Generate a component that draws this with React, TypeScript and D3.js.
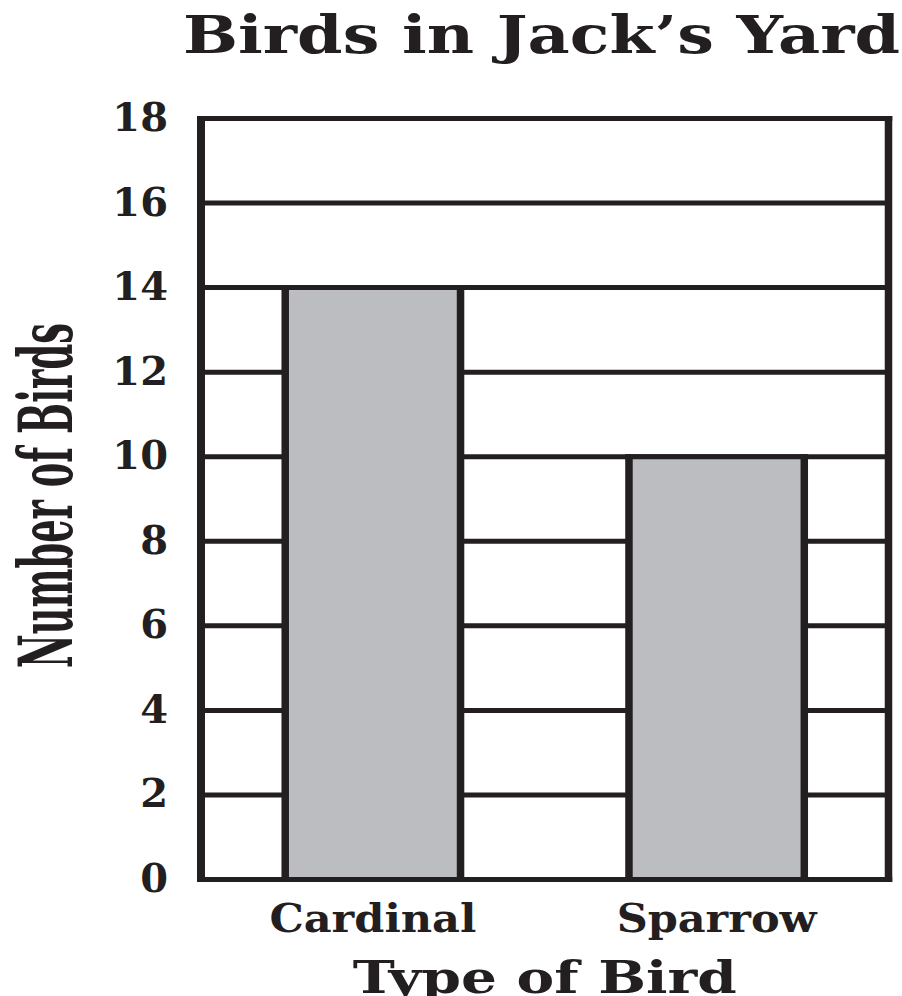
import React, { useRef, useEffect } from 'react';
import * as d3 from 'd3';

const chartTitle = 'Birds in Jack\u2019s Yard';
const xAxisTitle = 'Type of Bird';
const yAxisTitle = 'Number of Birds';
const categories = ['Cardinal', 'Sparrow'];
const birdCounts = [14, 10];
const yTicks = [0, 2, 4, 6, 8, 10, 12, 14, 16, 18];

const INK = '#231f20';
const BAR_FILL = '#bcbdc1';
const FONT = '"DejaVu Serif", "Liberation Serif", serif';

const App: React.FC = () => {
  const svgRef = useRef<SVGSVGElement>(null);

  useEffect(() => {
    if (!svgRef.current) return;
    const svgEl = d3.select(svgRef.current);
    svgEl.selectAll('*').remove();

    const width = 902;
    const height = 996;
    const margin = { top: 118.5, right: 13.5, bottom: 116.5, left: 201 };
    const innerWidth = width - margin.left - margin.right;
    const innerHeight = height - margin.top - margin.bottom;
    const hStroke = 5; // horizontal rules
    const vStroke = 7.5; // vertical rules (picture is stretched sideways)

    const xScale = d3
      .scaleBand<string>()
      .domain(categories)
      .range([0, innerWidth])
      .paddingInner(0.49)
      .paddingOuter(0.245);

    const yScale = d3
      .scaleLinear()
      .domain([0, d3.max(yTicks)!])
      .range([innerHeight, 0]);

    const svg = svgEl.attr('width', width).attr('height', height);

    // Title
    svg
      .append('text')
      .attr('x', 183)
      .attr('y', 53)
      .attr('font-family', FONT)
      .attr('font-weight', 'bold')
      .attr('font-size', 53)
      .attr('fill', INK)
      .attr('textLength', 717)
      .attr('lengthAdjust', 'spacingAndGlyphs')
      .text(chartTitle);

    const g = svg.append('g').attr('transform', `translate(${margin.left},${margin.top})`);

    // Grid lines
    g.selectAll('.grid')
      .data(yTicks.slice(1, -1))
      .join('line')
      .attr('class', 'grid')
      .attr('x1', 0)
      .attr('x2', innerWidth)
      .attr('y1', (d) => yScale(d))
      .attr('y2', (d) => yScale(d))
      .attr('stroke', INK)
      .attr('stroke-width', hStroke);

    const bars = categories.map((c, i) => ({ c, v: birdCounts[i] }));

    // Bars
    g.selectAll('.bar')
      .data(bars)
      .join('rect')
      .attr('class', 'bar')
      .attr('x', (d) => xScale(d.c)!)
      .attr('y', (d) => yScale(d.v))
      .attr('width', xScale.bandwidth())
      .attr('height', (d) => innerHeight - yScale(d.v))
      .attr('fill', BAR_FILL);

    // Bar outlines
    bars.forEach((d) => {
      const x0 = xScale(d.c)!;
      const x1 = x0 + xScale.bandwidth();
      [x0, x1].forEach((x) => {
        g.append('line')
          .attr('x1', x)
          .attr('x2', x)
          .attr('y1', yScale(d.v) - hStroke / 2)
          .attr('y2', innerHeight)
          .attr('stroke', INK)
          .attr('stroke-width', vStroke);
      });
      g.append('line')
        .attr('x1', x0 - vStroke / 2)
        .attr('x2', x1 + vStroke / 2)
        .attr('y1', yScale(d.v))
        .attr('y2', yScale(d.v))
        .attr('stroke', INK)
        .attr('stroke-width', hStroke);
    });

    // Frame
    [0, innerHeight].forEach((y) => {
      g.append('line')
        .attr('x1', -4)
        .attr('x2', innerWidth + vStroke / 2)
        .attr('y1', y)
        .attr('y2', y)
        .attr('stroke', INK)
        .attr('stroke-width', hStroke);
    });
    [0, innerWidth].forEach((x, i) => {
      g.append('line')
        .attr('x1', x)
        .attr('x2', x)
        .attr('y1', -hStroke / 2)
        .attr('y2', innerHeight + hStroke / 2)
        .attr('stroke', INK)
        .attr('stroke-width', i === 0 ? 8 : vStroke);
    });

    // Y tick labels
    g.selectAll('.ytick')
      .data(yTicks)
      .join('text')
      .attr('class', 'ytick')
      .attr('x', -33)
      .attr('y', (d) => yScale(d) + 12.5)
      .attr('text-anchor', 'end')
      .attr('font-family', FONT)
      .attr('font-weight', 'bold')
      .attr('font-size', 40)
      .attr('fill', INK)
      .text((d) => d);

    // X category labels
    const catWidths = [207, 200];
    g.selectAll('.xtick')
      .data(categories)
      .join('text')
      .attr('class', 'xtick')
      .attr('x', (d) => xScale(d)! + xScale.bandwidth() / 2)
      .attr('y', innerHeight + 52)
      .attr('text-anchor', 'middle')
      .attr('font-family', FONT)
      .attr('font-weight', 'bold')
      .attr('font-size', 40)
      .attr('fill', INK)
      .attr('textLength', (_d, i) => catWidths[i])
      .attr('lengthAdjust', 'spacingAndGlyphs')
      .text((d) => d);

    // X axis title
    g.append('text')
      .attr('x', innerWidth / 2)
      .attr('y', innerHeight + 113)
      .attr('text-anchor', 'middle')
      .attr('font-family', FONT)
      .attr('font-weight', 'bold')
      .attr('font-size', 45)
      .attr('fill', INK)
      .attr('textLength', 384)
      .attr('lengthAdjust', 'spacingAndGlyphs')
      .text(xAxisTitle);

    // Y axis title
    svg
      .append('text')
      .attr('transform', 'translate(72,495.5) rotate(-90)')
      .attr('text-anchor', 'middle')
      .attr('font-family', FONT)
      .attr('font-weight', 'bold')
      .attr('font-size', 75)
      .attr('fill', INK)
      .attr('textLength', 345)
      .attr('lengthAdjust', 'spacingAndGlyphs')
      .text(yAxisTitle);
  }, []);

  return (
    <svg
      ref={svgRef}
      style={{ position: 'absolute', left: 0, top: 0, display: 'block', background: '#fff' }}
    ></svg>
  );
};

export default App;
